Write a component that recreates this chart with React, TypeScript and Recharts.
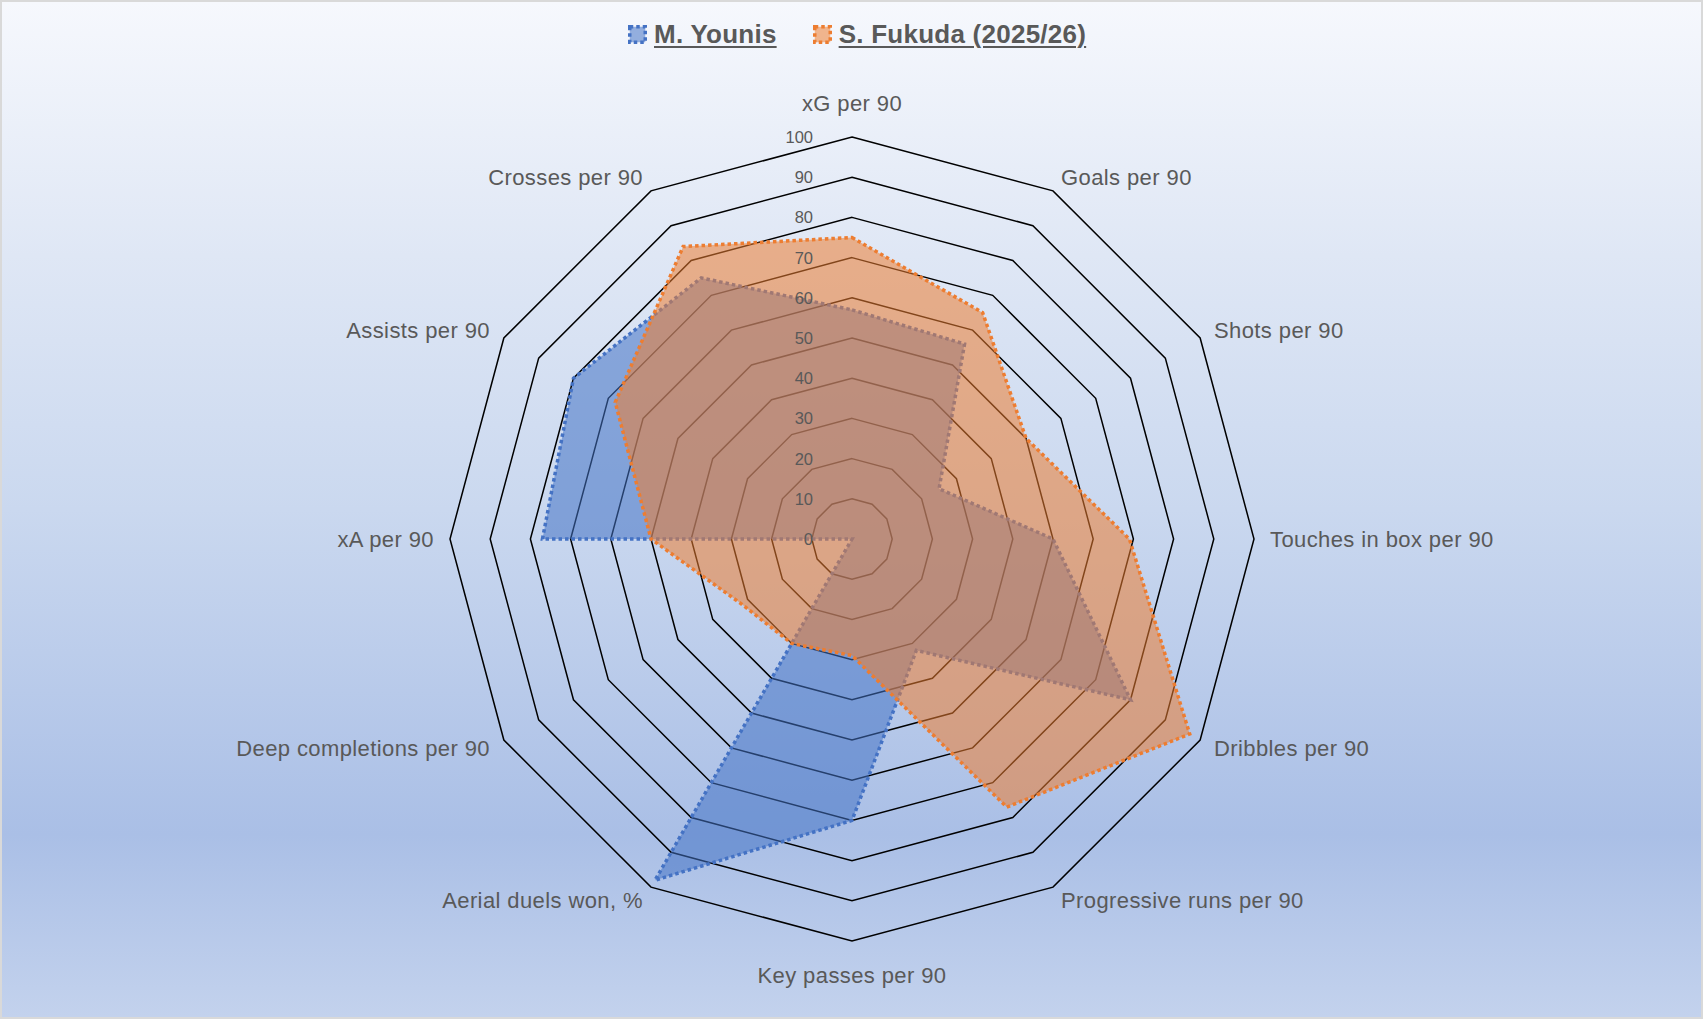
import { RadarChart, PolarGrid, PolarAngleAxis, PolarRadiusAxis, Radar } from "recharts";

// axis categories, clockwise from the top
const categories = [
  "xG per 90",
  "Goals per 90",
  "Shots per 90",
  "Touches in box per 90",
  "Dribbles per 90",
  "Progressive runs per 90",
  "Key passes per 90",
  "Aerial duels won, %",
  "Deep completions per 90",
  "xA per 90",
  "Assists per 90",
  "Crosses per 90",
];

// percentile values
const younisValues = [57, 56, 25, 50, 80, 32, 70, 98, 0, 77, 80, 75];
const fukudaValues = [75, 65, 50, 69, 97, 77, 29, 30, 32, 50, 68, 84];

const seriesNames = ["M. Younis", "S. Fukuda (2025/26)"];

const data = categories.map((subject, i) => ({
  subject,
  younis: younisValues[i],
  fukuda: fukudaValues[i],
}));

const W = 1699;
const H = 1015;
const CX = 850;
const CY = 537;
const R = 402;
const FONT = "'Liberation Sans', Arial, sans-serif";
const TEXT = "#595959";

function CategoryTick({ x, y, payload }: any) {
  const dx = x - CX;
  const dy = y - CY;
  const len = Math.hypot(dx, dy) || 1;
  const ux = dx / len;
  const uy = dy / len;
  let tx = CX + ux * 418;
  let ty = CY + uy * 418;
  let anchor: "start" | "end" | "middle" = ux > 0 ? "start" : "end";
  if (Math.abs(ux) < 0.01) {
    tx = CX;
    ty = CY + uy * 436;
    anchor = "middle";
  }
  return (
    <text
      x={tx}
      y={ty}
      textAnchor={anchor}
      dominantBaseline="central"
      fontFamily={FONT}
      fontSize={22}
      letterSpacing={0.4}
      fill={TEXT}
    >
      {payload.value}
    </text>
  );
}

function RadiusTick({ x, y, payload }: any) {
  return (
    <text
      x={x - 39}
      y={y}
      textAnchor="end"
      dominantBaseline="central"
      fontFamily={FONT}
      fontSize={16.5}
      fill={TEXT}
    >
      {payload.value}
    </text>
  );
}

function LegendIcon({ color }: { color: string }) {
  return (
    <svg width={19} height={19} style={{ display: "block" }}>
      <rect x={1.75} y={1.75} width={15.5} height={15.5} fill={color} fillOpacity={0.55} stroke={color} strokeWidth={3.5} strokeDasharray="3.5 3" />
    </svg>
  );
}

export default function App() {
  const colors = ["#4472C4", "#ED7D31"];
  return (
    <div
      style={{
        position: "relative",
        width: 1703,
        height: 1019,
        boxSizing: "border-box",
        border: "2px solid #d9d9d9",
        background:
          "linear-gradient(180deg, #f6f8fd 0%, #dfe7f5 25%, #cad8ef 50%, #aabfe6 82%, #c3d2ed 100%)",
        fontFamily: FONT,
      }}
    >
      <style>{"body{margin:0}"}</style>
      <div
        style={{
          position: "absolute",
          top: 17,
          left: 626,
          display: "flex",
          alignItems: "center",
          height: 30,
        }}
      >
        {seriesNames.map((name, i) => (
          <div key={name} style={{ display: "flex", alignItems: "center", marginRight: i === 0 ? 36 : 0 }}>
            <LegendIcon color={colors[i]} />
            <span
              style={{
                marginLeft: 7,
                fontSize: 26,
                fontWeight: "bold",
                letterSpacing: 0.25,
                color: TEXT,
                textDecoration: "underline",
                textDecorationThickness: 2,
                textUnderlineOffset: 3,
                lineHeight: "30px",
              }}
            >
              {name}
            </span>
          </div>
        ))}
      </div>
      <RadarChart
        width={W}
        height={H}
        data={data}
        cx={CX}
        cy={CY}
        outerRadius={R}
        margin={{ top: 0, right: 0, bottom: 0, left: 0 }}
      >
        <PolarGrid gridType="polygon" radialLines={false} stroke="#000000" strokeWidth={1.5} strokeOpacity={1} />
        <PolarAngleAxis dataKey="subject" axisLine={false} tickLine={false} tick={<CategoryTick />} />
        <Radar
          name={seriesNames[0]}
          dataKey="younis"
          stroke={colors[0]}
          strokeWidth={3.5}
          strokeDasharray="3.5 3"
          fill={colors[0]}
          fillOpacity={0.55}
          dot={false}
          isAnimationActive={false}
        />
        <Radar
          name={seriesNames[1]}
          dataKey="fukuda"
          stroke={colors[1]}
          strokeWidth={3.5}
          strokeDasharray="3.5 3"
          fill={colors[1]}
          fillOpacity={0.55}
          dot={false}
          isAnimationActive={false}
        />
        <PolarRadiusAxis
          angle={90}
          domain={[0, 100]}
          tickCount={11}
          axisLine={false}
          tickLine={false}
          tick={<RadiusTick />}
        />
      </RadarChart>
    </div>
  );
}
